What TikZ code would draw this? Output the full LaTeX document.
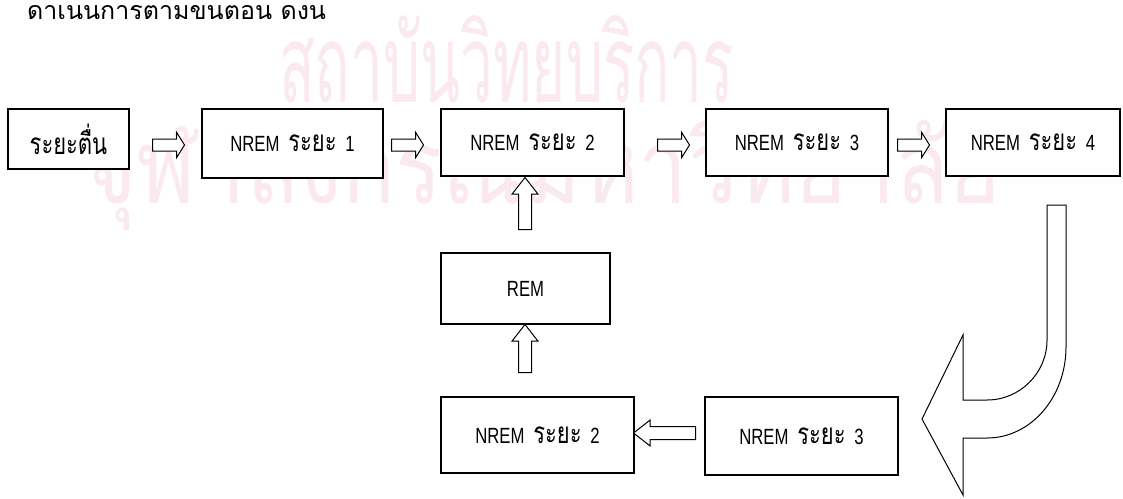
\documentclass[tikz,border=0pt]{standalone}
\usepackage{fontspec}
\setmainfont{Liberation Sans}[FakeStretch=0.76, WordSpace=1.9]
\newfontfamily\thaifont[Script=Thai,FakeStretch=0.74,Scale=1.35]{Loma}
\newfontfamily\headfont[Script=Thai]{Loma}
\newfontfamily\wmfont[Script=Thai]{Loma}
\usetikzlibrary{shapes.arrows}

\definecolor{wmpink}{RGB}{250,234,240}

\tikzset{
  stage/.style={draw, fill=white, line width=1.3pt, inner sep=0pt,
    font=\fontsize{22}{26}\selectfont},
  flow/.style={draw, fill=white, line width=1pt, single arrow,
    inner xsep=0pt, inner ysep=5.5pt,
    minimum width=24pt, single arrow head extend=6.5pt,
    single arrow head indent=0pt, anchor=tail},
  shortflow/.style={flow, minimum height=32pt, single arrow tip angle=116},
  longflow/.style={flow, inner ysep=6pt, minimum width=25pt, single arrow tip angle=76},
}

\begin{document}
\begin{tikzpicture}[x=1pt, y=-1pt]
    \useasboundingbox (0,0) rectangle (1123,498);

    % watermark behind everything
    \node[text=wmpink, inner sep=0pt, anchor=base west] (wm1) at (279,102)
        {\resizebox{455pt}{87pt}{\color{wmpink}\wmfont สถาบันวิทยบริการ}};
    \node[text=wmpink, inner sep=0pt, anchor=base west] (wm2) at (85,203)
        {\resizebox{915pt}{91pt}{\color{wmpink}\wmfont จุฬาลงกรณ์มหาวิทยาลัย}};

    % heading line
    \node[inner sep=0pt, anchor=base west, font=\fontsize{25}{30}\selectfont] (head) at (27,19)
        {\headfont ดาเนนการตามขนตอน ดงน};

    % top row
    \node[stage, minimum width=121pt, minimum height=60pt] (wake) at (68.5,139) {\thaifont ระยะตื่น};
    \node[stage, minimum width=181pt, minimum height=69pt] (n1) at (292.5,143.5) {NREM {\thaifont ระยะ} 1};
    \node[stage, minimum width=183pt, minimum height=67pt] (n2) at (532.5,142.5) {NREM {\thaifont ระยะ} 2};
    \node[stage, minimum width=182pt, minimum height=67pt] (n3) at (797,142.5) {NREM {\thaifont ระยะ} 3};
    \node[stage, minimum width=174pt, minimum height=67pt] (n4) at (1033,142.5) {NREM {\thaifont ระยะ} 4};

    % REM and the lower row
    \node[stage, minimum width=169pt, minimum height=71pt] (rem) at (525.5,288.5) {REM};
    \node[stage, minimum width=193pt, minimum height=76pt] (n2b) at (537.5,435) {NREM {\thaifont ระยะ} 2};
    \node[stage, minimum width=193pt, minimum height=78pt] (n3b) at (801.5,436) {NREM {\thaifont ระยะ} 3};

    % block arrows along the top row
    \node[shortflow] (a1) at (152,145) {};
    \node[shortflow] (a2) at (391,145) {};
    \node[shortflow] (a3) at (657,145) {};
    \node[shortflow] (a4) at (897,145) {};

    % block arrows back up through REM
    \node[longflow, minimum height=62pt, rotate=180] (a5) at (696,433) {};
    \node[longflow, minimum height=48pt, rotate=90] (a6) at (525,373) {};
    \node[longflow, minimum height=52pt, rotate=90] (a7) at (525,230) {};

    % bent arrow from NREM 4 down to NREM 3
    \draw[line width=1pt, fill=white] (963,400) -- (987,400)
        .. controls (1020,400) and (1047,373) .. (1047,340) -- (1047,205)
        -- (1066,205) -- (1066,347)
        .. controls (1066,397) and (1031,438) .. (987,438) -- (963,438)
        -- (963,495) -- (922,419) -- (963,335) -- cycle;
\end{tikzpicture}
\end{document}
